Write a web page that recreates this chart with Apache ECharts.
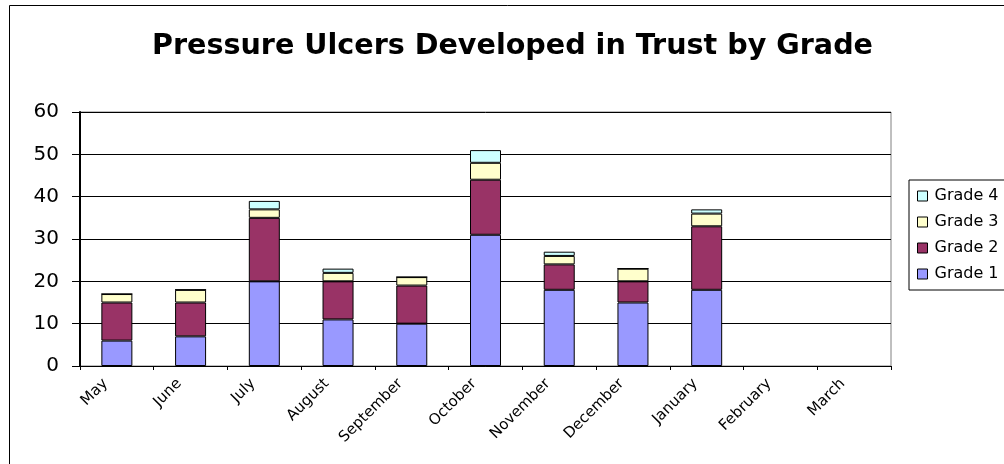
<!DOCTYPE html>
<html>
<head>
<meta charset="utf-8">
<script src="https://cdn.jsdelivr.net/npm/echarts@6/dist/echarts.min.js"></script>
<style>
  html, body { margin: 0; padding: 0; background: #fff; }
  #chart { width: 1004px; height: 464px; }
</style>
</head>
<body>
<div id="chart"></div>
<script>
// Monthly pressure ulcer counts, split by grade
const months = ['May', 'June', 'July', 'August', 'September', 'October', 'November', 'December', 'January', 'February', 'March'];
const grade1 = [6, 7, 20, 11, 10, 31, 18, 15, 18, null, null];
const grade2 = [9, 8, 15, 9, 9, 13, 6, 5, 15, null, null];
const grade3 = [2, 3, 2, 2, 2, 4, 2, 3, 3, null, null];
const grade4 = [0, 0, 2, 1, 0, 3, 1, 0, 1, null, null];
const yTicks = [0, 10, 20, 30, 40, 50, 60];

const seriesNames = ['Grade 1', 'Grade 2', 'Grade 3', 'Grade 4'];
const seriesColors = ['#9999FF', '#993366', '#FFFFCC', '#CCFFFF'];
const seriesData = [grade1, grade2, grade3, grade4];

const FONT = 'DejaVu Sans';

const chart = echarts.init(document.getElementById('chart'));

chart.setOption({
  animation: false,
  backgroundColor: '#fff',
  textStyle: { fontFamily: FONT, color: '#000' },
  title: {
    text: 'Pressure Ulcers Developed in Trust by Grade',
    left: 152,
    top: 32,
    padding: 0,
    textStyle: { fontFamily: FONT, fontSize: 28.6, fontWeight: 'bold', color: '#000' }
  },
  graphic: [{
    type: 'rect',
    shape: { x: 9.5, y: 5.5, width: 1100, height: 600 },
    style: { fill: 'none', stroke: '#000', lineWidth: 1 },
    silent: true,
    z: -10
  }],
  legend: {
    orient: 'vertical',
    left: 909,
    top: 180,
    data: ['Grade 4', 'Grade 3', 'Grade 2', 'Grade 1'],
    icon: 'rect',
    itemWidth: 10,
    itemHeight: 10,
    itemGap: 10,
    padding: [8, 30, 8, 8],
    borderColor: '#000',
    borderWidth: 1,
    selectedMode: false,
    itemStyle: { borderColor: '#000', borderWidth: 1 },
    textStyle: { fontFamily: FONT, fontSize: 16, color: '#000', padding: [0, 0, 0, 2] }
  },
  grid: {
    left: 80,
    right: 113,
    top: 112,
    bottom: 98,
    show: true,
    borderColor: '#808080',
    borderWidth: 1,
    containLabel: false
  },
  xAxis: {
    type: 'category',
    data: months,
    boundaryGap: true,
    axisLine: { lineStyle: { color: '#000', width: 1 } },
    axisTick: { show: true, alignWithLabel: false, length: 4, lineStyle: { color: '#000' } },
    axisLabel: {
      rotate: 45,
      margin: 4,
      interval: 0,
      padding: [0, 16, 0, 0],
      fontFamily: FONT,
      fontSize: 15,
      color: '#000'
    }
  },
  yAxis: {
    type: 'value',
    min: yTicks[0],
    max: yTicks[yTicks.length - 1],
    interval: 10,
    axisLine: { show: true, lineStyle: { color: '#000', width: 2 } },
    axisTick: { show: true, length: 8, lineStyle: { color: '#000' } },
    splitLine: { show: true, lineStyle: { color: '#000', width: 1 } },
    axisLabel: {
      margin: 21,
      fontFamily: FONT,
      fontSize: 20,
      color: '#000'
    }
  },
  series: seriesNames.map((name, i) => ({
    name: name,
    type: 'bar',
    stack: 'total',
    barWidth: 31,
    data: seriesData[i],
    itemStyle: { color: seriesColors[i], borderColor: '#000', borderWidth: 1 }
  }))
});
</script>
</body>
</html>
